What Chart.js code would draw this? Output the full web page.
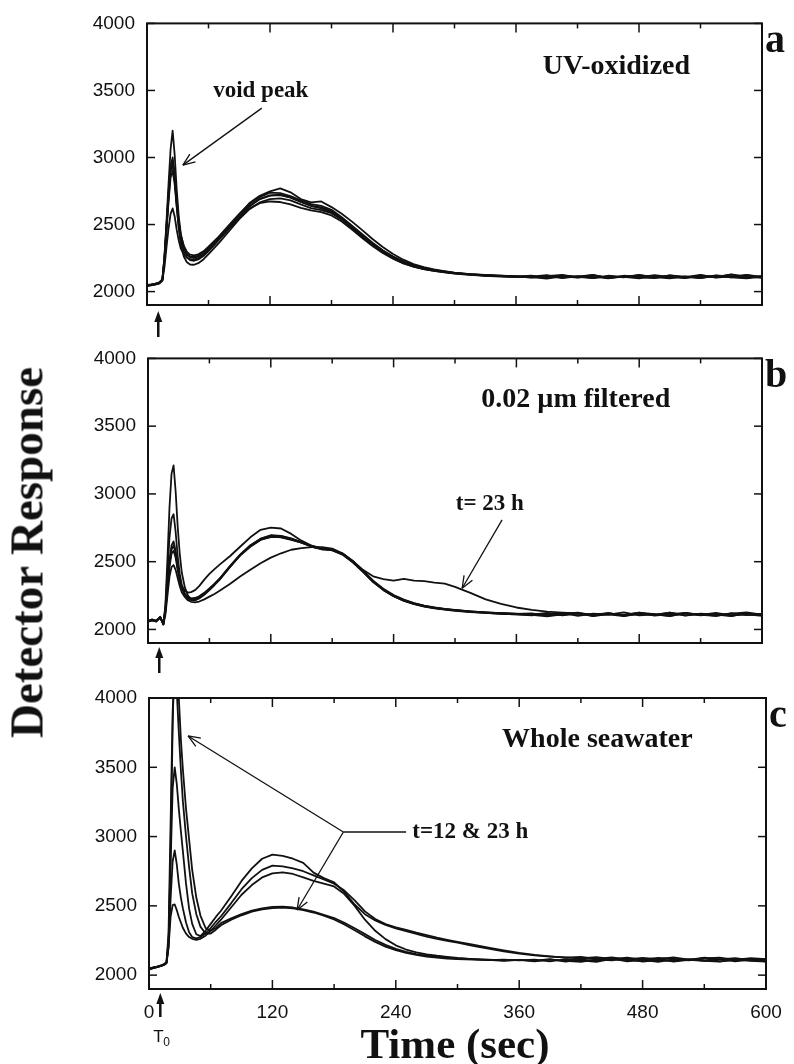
<!DOCTYPE html>
<html lang="en">
<head>
<meta charset="UTF-8">
<title>Detector Response vs Time</title>
<script src="https://cdn.jsdelivr.net/npm/chart.js"></script>
<style>
  body { margin: 0; background: #fff; }
  #page { position: relative; width: 794px; height: 1064px; overflow: hidden; }
  canvas { position: absolute; left: 0; }
  .big { position: absolute; font-family: "Liberation Serif", "Times New Roman", serif; font-weight: bold; color: #111; white-space: nowrap; text-align: center; }
  #ylab { font-size: 47px; line-height: 47px; width: 500px; height: 47px; left: -223px; top: 529px; transform: rotate(-90deg); }
  #xlab { font-size: 43px; line-height: 43px; width: 400px; left: 255px; top: 1022px; }
</style>
</head>
<body>
<div id="page">
  <canvas id="chartA" width="794" height="340" style="top:0px"></canvas>
  <canvas id="chartB" width="794" height="340" style="top:335px"></canvas>
  <canvas id="chartC" width="794" height="394" style="top:670px"></canvas>
  <div id="ylab" class="big">Detector Response</div>
  <div id="xlab" class="big">Time (sec)</div>
</div>
<script>
// sampling times (sec), shared by every trace
const T = [0,4,8,12,15,17,19,21,23,25,27,29,31,33,36,39,42,46,50,55,60,65,70,80,90,100,110,120,130,140,150,160,170,180,190,200,210,220,230,240,250,260,270,280,290,300,315,330,345,360,375,390,405,420,435,450,465,480,495,510,525,540,555,570,585,600];

// a: UV-oxidized
const uv1 = [2048,2052,2058,2066,2090,2260,2520,2800,3060,3200,3020,2760,2560,2430,2330,2280,2262,2258,2266,2290,2325,2360,2398,2478,2560,2640,2690,2715,2720,2700,2668,2640,2620,2592,2540,2478,2416,2356,2302,2258,2222,2194,2172,2158,2148,2138,2128,2122,2118,2115,2112,2122,2104,2116,2100,2118,2108,2124,2106,2114,2102,2120,2110,2126,2104,2116];
const uv2 = [2040,2046,2052,2062,2085,2240,2480,2720,2930,3000,2880,2680,2520,2410,2320,2275,2255,2252,2262,2288,2322,2362,2405,2490,2575,2660,2715,2748,2770,2740,2690,2665,2672,2630,2580,2522,2458,2392,2332,2280,2238,2205,2182,2165,2152,2142,2130,2124,2118,2112,2118,2104,2120,2108,2124,2100,2114,2106,2122,2110,2100,2118,2106,2128,2112,2102];
const uv3 = [2045,2050,2056,2064,2088,2235,2460,2690,2890,2950,2840,2660,2520,2420,2340,2295,2275,2270,2278,2300,2335,2372,2410,2495,2580,2655,2705,2738,2735,2712,2680,2652,2640,2610,2555,2492,2428,2365,2308,2262,2226,2198,2176,2160,2150,2140,2130,2122,2116,2114,2104,2116,2124,2106,2112,2098,2118,2110,2102,2120,2108,2124,2104,2114,2122,2106];
const uv4 = [2050,2054,2060,2068,2092,2250,2490,2740,2940,2980,2850,2640,2470,2350,2260,2218,2202,2200,2212,2240,2280,2320,2362,2450,2540,2615,2665,2690,2695,2680,2650,2622,2608,2585,2535,2472,2408,2346,2292,2248,2212,2186,2168,2154,2144,2134,2124,2118,2112,2108,2108,2096,2114,2104,2120,2102,2110,2098,2116,2104,2112,2100,2118,2106,2098,2112];
const uv5 = [2042,2048,2054,2062,2080,2180,2330,2470,2580,2620,2560,2460,2380,2320,2275,2252,2242,2240,2250,2275,2310,2348,2388,2470,2550,2620,2660,2672,2668,2650,2625,2605,2592,2568,2522,2462,2400,2340,2288,2245,2210,2186,2168,2155,2146,2136,2126,2120,2116,2112,2114,2102,2118,2110,2100,2116,2106,2122,2108,2098,2114,2104,2120,2112,2102,2116];
const uv6 = [2046,2050,2056,2064,2086,2230,2450,2670,2850,2900,2800,2630,2480,2380,2300,2255,2235,2230,2240,2265,2302,2342,2385,2470,2555,2635,2690,2718,2722,2702,2670,2640,2628,2600,2548,2485,2420,2360,2305,2260,2222,2195,2172,2158,2148,2138,2128,2120,2116,2112,2106,2118,2100,2114,2122,2104,2116,2108,2100,2120,2110,2102,2118,2106,2124,2110];

// b: 0.02 um filtered
const flt1 = [2058,2072,2062,2088,2042,2180,2520,2900,3150,3210,3020,2760,2560,2420,2310,2250,2225,2220,2235,2262,2295,2330,2370,2460,2545,2610,2660,2685,2680,2660,2640,2610,2590,2585,2555,2500,2430,2355,2295,2250,2215,2190,2172,2160,2150,2142,2134,2126,2120,2116,2110,2122,2104,2116,2100,2118,2108,2124,2102,2114,2120,2104,2116,2100,2118,2108];
const flt2 = [2062,2068,2058,2092,2038,2160,2420,2680,2820,2850,2720,2540,2410,2330,2262,2228,2216,2215,2228,2255,2290,2328,2368,2462,2550,2618,2668,2692,2688,2668,2642,2612,2594,2588,2560,2505,2435,2360,2300,2254,2220,2194,2176,2162,2152,2144,2134,2126,2120,2114,2118,2102,2114,2124,2106,2112,2098,2120,2110,2104,2122,2108,2100,2116,2126,2110];
const flt3 = [2056,2070,2064,2086,2044,2140,2330,2510,2620,2650,2580,2460,2370,2310,2260,2236,2230,2232,2245,2270,2302,2338,2376,2468,2552,2622,2670,2695,2690,2672,2645,2616,2598,2590,2558,2498,2428,2352,2292,2246,2212,2188,2170,2158,2148,2140,2130,2122,2116,2112,2104,2116,2108,2120,2098,2114,2106,2124,2112,2100,2118,2108,2122,2104,2112,2100];
const flt4 = [2060,2074,2060,2090,2040,2130,2300,2460,2560,2580,2530,2440,2370,2320,2285,2272,2275,2290,2320,2368,2410,2445,2478,2540,2610,2680,2735,2752,2745,2705,2655,2618,2596,2584,2552,2495,2425,2350,2290,2245,2210,2186,2168,2156,2146,2138,2128,2122,2116,2112,2114,2106,2122,2100,2116,2110,2126,2104,2112,2098,2120,2110,2104,2118,2108,2114];
const flt5 = [2064,2066,2062,2094,2036,2110,2250,2390,2460,2475,2440,2380,2320,2275,2240,2215,2204,2200,2206,2222,2242,2262,2285,2335,2390,2440,2488,2530,2562,2588,2600,2608,2608,2596,2562,2505,2432,2356,2296,2250,2216,2192,2174,2160,2150,2142,2132,2124,2118,2114,2108,2096,2112,2118,2104,2120,2100,2114,2108,2124,2102,2116,2110,2098,2120,2106];
const flt23h = [2060,2070,2066,2088,2040,2135,2320,2490,2590,2620,2560,2450,2365,2305,2258,2234,2226,2226,2240,2266,2298,2334,2372,2462,2548,2615,2662,2682,2682,2665,2640,2612,2594,2590,2560,2506,2440,2392,2372,2360,2374,2360,2356,2346,2338,2314,2270,2222,2188,2162,2144,2132,2124,2118,2110,2120,2102,2116,2108,2124,2104,2114,2100,2118,2108,2112];

// c: whole seawater
const sw12h = [2040,2050,2058,2066,2075,2085,2200,2900,3800,4400,4300,4000,3700,3480,3200,2980,2760,2560,2430,2340,2320,2340,2375,2410,2440,2465,2482,2492,2495,2488,2475,2458,2435,2412,2378,2338,2296,2254,2218,2190,2168,2152,2140,2132,2126,2120,2116,2112,2106,2110,2104,2116,2098,2112,2104,2120,2100,2110,2096,2114,2106,2122,2100,2112,2104,2098];
const sw23h = [2046,2054,2062,2070,2080,2095,2300,3100,3900,4200,4050,3750,3480,3250,3000,2780,2590,2440,2350,2300,2300,2328,2360,2400,2432,2458,2474,2484,2488,2482,2470,2452,2430,2402,2366,2324,2280,2240,2206,2180,2160,2146,2134,2126,2120,2116,2112,2108,2112,2106,2112,2100,2116,2106,2096,2118,2108,2102,2120,2098,2110,2104,2116,2100,2112,2106];
const sw3 = [2044,2052,2060,2068,2078,2090,2250,2800,3350,3500,3380,3200,3040,2890,2660,2480,2370,2295,2282,2320,2370,2420,2465,2570,2680,2770,2840,2870,2860,2840,2810,2740,2700,2670,2600,2510,2440,2395,2362,2338,2318,2298,2278,2262,2248,2235,2212,2192,2172,2156,2142,2134,2128,2120,2130,2116,2126,2112,2124,2118,2110,2126,2114,2122,2108,2118];
const sw4 = [2048,2056,2062,2070,2082,2092,2220,2550,2820,2900,2800,2660,2560,2480,2380,2310,2275,2265,2275,2300,2340,2385,2425,2520,2620,2700,2760,2790,2785,2770,2750,2720,2690,2660,2610,2540,2460,2405,2368,2345,2326,2306,2288,2270,2255,2240,2220,2198,2178,2160,2146,2136,2126,2132,2118,2128,2114,2124,2116,2128,2112,2120,2126,2110,2122,2116];
const sw5 = [2042,2050,2058,2066,2076,2088,2200,2420,2505,2510,2470,2420,2380,2340,2300,2275,2262,2255,2262,2285,2320,2360,2400,2490,2580,2650,2705,2735,2742,2730,2705,2680,2660,2640,2585,2500,2400,2320,2260,2215,2185,2165,2150,2140,2132,2124,2116,2110,2104,2110,2100,2112,2104,2096,2114,2106,2120,2098,2108,2102,2116,2104,2098,2112,2106,2100];

const yTicks = [2000, 2500, 3000, 3500, 4000];
const xLabels = [0, 120, 240, 360, 480, 600];
const xMarks = [0, 60, 120, 180, 240, 300, 360, 420, 480, 540, 600];
const T0 = 11;   // injection time
const ink = '#111';

function series(vals) {
  return vals.map((v, i) => ({ x: T[i], y: v }));
}

const frame = {
  id: 'frame',
  afterDraw(chart, args, o) {
    const { ctx, chartArea: a } = chart;
    const x = chart.scales.x, y = chart.scales.y;
    const seg = (x1, y1, x2, y2) => { ctx.beginPath(); ctx.moveTo(x1, y1); ctx.lineTo(x2, y2); ctx.stroke(); };
    ctx.save();
    ctx.strokeStyle = ink;
    ctx.fillStyle = ink;
    ctx.lineWidth = 2;
    ctx.strokeRect(a.left, a.top, a.right - a.left, a.bottom - a.top);

    // inward tick marks on all four sides
    ctx.lineWidth = 1.5;
    xMarks.forEach(t => {
      const px = x.getPixelForValue(t), len = t % 120 === 0 ? 9 : 5;
      seg(px, a.bottom, px, a.bottom - len);
      seg(px, a.top, px, a.top + len);
    });
    yTicks.forEach(v => {
      const py = y.getPixelForValue(v);
      seg(a.left, py, a.left + 8, py);
      seg(a.right, py, a.right - 8, py);
    });

    // injection arrow under the axis
    const ax = x.getPixelForValue(T0);
    const tip = a.bottom + o.t0[0], tail = a.bottom + o.t0[1];
    ctx.lineWidth = 2.5;
    seg(ax, tail, ax, tip + 8);
    ctx.beginPath();
    ctx.moveTo(ax, tip);
    ctx.lineTo(ax - 4, tip + 11);
    ctx.lineTo(ax + 4, tip + 11);
    ctx.closePath();
    ctx.fill();
    if (o.t0Label) {
      ctx.font = '17px "Liberation Sans", Arial, sans-serif';
      ctx.textAlign = 'left';
      ctx.textBaseline = 'alphabetic';
      ctx.fillText('T', ax - 7, a.bottom + 53);
      ctx.font = '12px "Liberation Sans", Arial, sans-serif';
      ctx.fillText('0', ax + 3, a.bottom + 57);
    }

    // notes
    ctx.textBaseline = 'alphabetic';
    (o.texts || []).forEach(n => {
      ctx.font = `bold ${n.size}px "Liberation Serif", "Times New Roman", serif`;
      ctx.textAlign = n.align || 'center';
      ctx.fillText(n.text, x.getPixelForValue(n.at[0]), y.getPixelForValue(n.at[1]));
    });
    ctx.lineWidth = 1.3;
    (o.arrows || []).forEach(r => {
      const x1 = x.getPixelForValue(r.from[0]), y1 = y.getPixelForValue(r.from[1]);
      const x2 = x.getPixelForValue(r.to[0]), y2 = y.getPixelForValue(r.to[1]);
      seg(x1, y1, x2, y2);
      if (r.head) {
        const ang = Math.atan2(y2 - y1, x2 - x1);
        [-0.38, 0.38].forEach(d => seg(x2, y2, x2 - 13 * Math.cos(ang + d), y2 - 13 * Math.sin(ang + d)));
      }
    });

    // panel letter
    ctx.font = 'bold 40px "Liberation Serif", "Times New Roman", serif';
    ctx.textAlign = 'left';
    ctx.fillText(o.letter, a.right + 3, a.top + 29);
    ctx.restore();
  }
};

function makeChart(id, runs, box, notes, showX) {
  const tickFont = { family: '"Liberation Sans", Arial, sans-serif', size: 19 };
  return new Chart(document.getElementById(id), {
    type: 'line',
    data: {
      datasets: runs.map(r => ({
        data: series(r),
        borderColor: ink,
        borderWidth: 1.8,
        borderJoinStyle: 'round',
        pointRadius: 0,
        tension: 0,
        fill: false,
        clip: 0
      }))
    },
    options: {
      responsive: false,
      animation: false,
      events: [],
      layout: { padding: { left: 0, top: box.top, right: box.right, bottom: 0 } },
      plugins: { legend: { display: false }, tooltip: { enabled: false }, frame: notes },
      scales: {
        x: {
          type: 'linear', min: 0, max: 600,
          grid: { display: false, drawTicks: false },
          border: { display: false },
          afterBuildTicks: s => { s.ticks = xLabels.map(v => ({ value: v })); },
          afterFit: s => { s.height = box.xh; },
          ticks: { display: showX, padding: 12, maxRotation: 0, autoSkip: false, color: ink,
                   font: tickFont, callback: v => String(v) }
        },
        y: {
          min: 1900, max: 4000,
          grid: { display: false, drawTicks: false },
          border: { display: false },
          afterBuildTicks: s => { s.ticks = yTicks.map(v => ({ value: v })); },
          afterFit: s => { s.width = box.left; },
          ticks: { padding: 12, color: ink, font: tickFont, callback: v => String(v) }
        }
      }
    },
    plugins: [frame]
  });
}

makeChart('chartA', [uv1, uv2, uv3, uv4, uv5, uv6],
  { top: 19, right: 32, left: 147, xh: 35 },
  { letter: 'a', t0: [6, 32],
    texts: [{ at: [111, 3449], text: 'void peak', size: 23 },
            { at: [458, 3626], text: 'UV-oxidized', size: 28 }],
    arrows: [{ from: [112, 3368], to: [35, 2943], head: true }] },
  false);

makeChart('chartB', [flt1, flt2, flt3, flt4, flt5, flt23h],
  { top: 17, right: 32, left: 148, xh: 32 },
  { letter: 'b', t0: [4, 30],
    texts: [{ at: [418, 3639], text: '0.02 \u00b5m filtered', size: 28 },
            { at: [334, 2882], text: 't= 23 h', size: 23 }],
    arrows: [{ from: [346, 2809], to: [307, 2304], head: true }] },
  false);

makeChart('chartC', [sw12h, sw23h, sw3, sw4, sw5],
  { top: 28, right: 28, left: 149, xh: 75 },
  { letter: 'c', t0: [4, 28], t0Label: true,
    texts: [{ at: [436, 3646], text: 'Whole seawater', size: 28 },
            { at: [256, 2990], text: 't=12 & 23 h', size: 23, align: 'left' }],
    arrows: [{ from: [250, 3033], to: [189, 3033] },
             { from: [189, 3033], to: [38, 3726], head: true },
             { from: [189, 3033], to: [144, 2470], head: true }] },
  true);
</script>
</body>
</html>
